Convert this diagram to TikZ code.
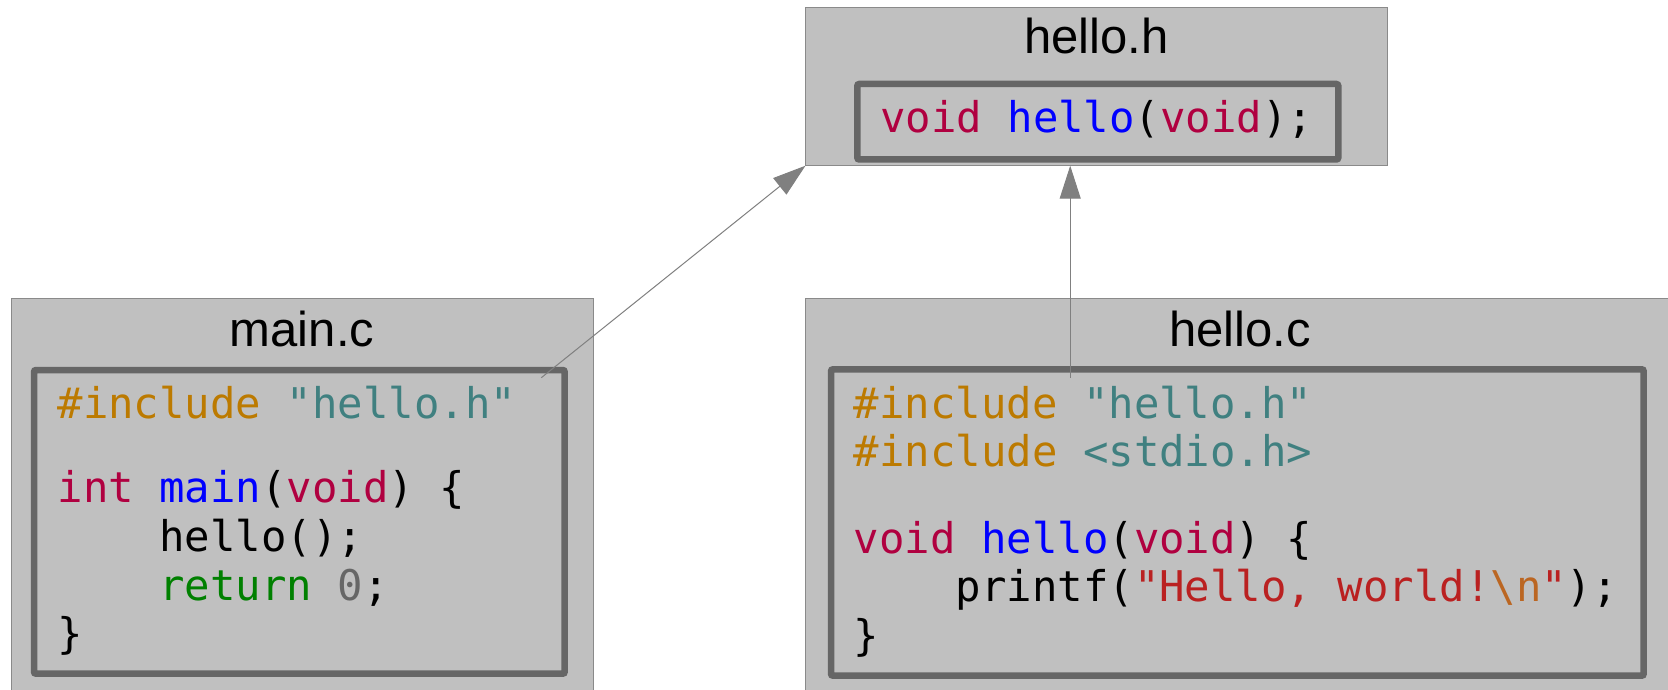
\documentclass[tikz,border=0pt]{standalone}
\usepackage{fontspec}
\setsansfont{Liberation Sans}
\setmonofont{DejaVu Sans Mono}
\usetikzlibrary{arrows.meta}
\definecolor{boxbg}{HTML}{C0C0C0}
\definecolor{outerline}{HTML}{8A8A8A}
\definecolor{innerline}{HTML}{666666}
\definecolor{linkgray}{HTML}{808080}
\definecolor{kwtype}{HTML}{B00040}
\definecolor{func}{HTML}{0000FF}
\definecolor{preproc}{HTML}{BC7A00}
\definecolor{ppfile}{HTML}{408080}
\definecolor{kw}{HTML}{008000}
\definecolor{num}{HTML}{666666}
\definecolor{str}{HTML}{BA2121}
\definecolor{esc}{HTML}{BB6622}
\newcommand{\KT}[1]{\textcolor{kwtype}{#1}}
\newcommand{\FN}[1]{\textcolor{func}{#1}}
\newcommand{\PP}[1]{\textcolor{preproc}{#1}}
\newcommand{\PF}[1]{\textcolor{ppfile}{#1}}
\newcommand{\KW}[1]{\textcolor{kw}{#1}}
\newcommand{\NM}[1]{\textcolor{num}{#1}}
\newcommand{\ST}[1]{\textcolor{str}{#1}}
\newcommand{\ES}[1]{\textcolor{esc}{#1}}
\begin{document}
\begin{tikzpicture}[x=1pt,y=-1pt,
  outerbox/.style={draw=outerline, line width=1pt, fill=boxbg, rectangle,
    inner sep=0pt, outer sep=0pt, anchor=north west},
  codebox/.style={draw=innerline, line width=6.5pt, rounded corners=2pt, rectangle,
    inner sep=0pt, outer sep=0pt, anchor=north west},
  titletext/.style={font=\sffamily\fontsize{49}{55}\selectfont, anchor=base, inner sep=0pt},
  codeline/.style={font=\ttfamily\fontsize{42.3}{48}\selectfont, anchor=base west, inner sep=0pt},
  link/.style={draw=linkgray, line width=1pt, -{Triangle[length=33pt,width=21pt]}}
]
\useasboundingbox (0,0) rectangle (1668,690);
\fill[white] (0,0) rectangle (1668,690);
\clip (0,0) rectangle (1668,690);

% outer boxes
\node[outerbox, minimum width=582pt, minimum height=158.4pt] (hh) at (805.5,7.3) {};
\node[outerbox, minimum width=582pt, minimum height=450pt] (mc) at (11.5,298.3) {};
\node[outerbox, minimum width=950pt, minimum height=450pt] (hc) at (805.5,298.3) {};

% inner code boxes
\node[codebox, minimum width=481pt, minimum height=75.5pt] (hhcode) at (857.3,84) {};
\node[codebox, minimum width=530.7pt, minimum height=303.7pt] (mccode) at (34,370) {};
\node[codebox, minimum width=812.7pt, minimum height=306.4pt] (hccode) at (831,369.3) {};

% titles
\node[titletext] (hhtitle) at (1096.6,54) {hello.h};
\node[titletext] (mctitle) at (302,346) {main.c};
\node[titletext] (hctitle) at (1240,346) {hello.c};

% hello.h code
\node[codeline] (h1) at (880,133) {\KT{void} \FN{hello}(\KT{void});};

% main.c code
\node[codeline] (m1) at (57.4,418) {\PP{\#include} \PF{"hello.h"}};
\node[codeline] (m2) at (57.4,502.5) {\KT{int} \FN{main}(\KT{void}) \{};
\node[codeline] (m3) at (57.4,551.5) {\hphantom{xxxx}hello();};
\node[codeline] (m4) at (57.4,600) {\hphantom{xxxx}\KW{return} \NM{0};};
\node[codeline] (m5) at (57.4,648.5) {\}};

% hello.c code
\node[codeline] (c1) at (853.7,418) {\PP{\#include} \PF{"hello.h"}};
\node[codeline] (c2) at (853.7,466) {\PP{\#include} \PF{<stdio.h>}};
\node[codeline] (c3) at (853.7,553) {\KT{void} \FN{hello}(\KT{void}) \{};
\node[codeline] (c4) at (853.7,601.5) {\hphantom{xxxx}printf(\ST{"Hello, world!}\ES{\textbackslash n}\ST{"});};
\node[codeline] (c5) at (853.7,650) {\}};

% connectors
\coordinate (s1) at (541.3,377.7);
\coordinate (s2) at (1070.2,377.7);
\draw[link] (s1) -- (hh.south west);
\draw[link] (s2) -- (s2 |- hh.south);
\end{tikzpicture}
\end{document}
